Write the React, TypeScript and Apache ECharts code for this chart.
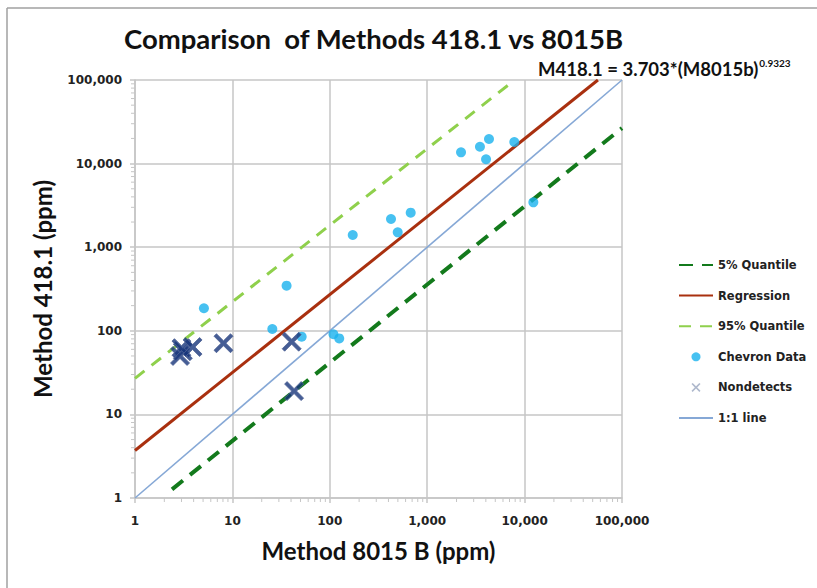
import React, { useEffect, useRef } from "react";
import * as echarts from "echarts";

// ---- Data ----
const axisTickValues = [1, 10, 100, 1000, 10000, 100000];
const minorMultipliers = [2, 3, 4, 5, 6, 7, 8, 9];

const chevronX = [2225, 3480, 4310, 4020, 7840, 12300, 172, 425, 677, 498, 5.1, 36, 25.7, 51.4, 109, 125];
const chevronY = [13650, 15900, 19700, 11260, 18130, 3440, 1400, 2175, 2590, 1507, 186, 347, 105, 85, 91, 81];

const nondetectX = [2.9, 3.1, 3.0, 3.9, 8.1, 40.6, 43];
const nondetectY = [50, 57, 62, 64, 71, 74, 19];

const q05X = [2.4, 100000];
const q05Y = [1.27, 26600];

const regX = [1, 56600];
const regY = [3.703, 100000];

const q95X = [1, 7900];
const q95Y = [27, 100000];

const oneX = [1, 100000];
const oneY = [1, 100000];

const zip = (xs: number[], ys: number[]) => xs.map((x, i) => [x, ys[i]]);

const X_ICON =
  "path://M0,1.3 L1.3,0 L5,3.7 L8.7,0 L10,1.3 L6.3,5 L10,8.7 L8.7,10 L5,6.3 L1.3,10 L0,8.7 L3.7,5 Z";

export default function App() {
  const ref = useRef<HTMLDivElement>(null);

  useEffect(() => {
    if (!ref.current) return;
    const chart = echarts.init(ref.current, undefined, { renderer: "svg" });

    const minorData: number[][] = [];
    for (let d = 0; d < axisTickValues.length - 1; d++) {
      for (const m of minorMultipliers) {
        const v = m * axisTickValues[d];
        minorData.push([v, 1, 0]);
        minorData.push([1, v, 1]);
      }
    }

    const fmt = (v: number) => Math.round(v).toLocaleString("en-US");
    const gridColor = "#c6c6c6";
    const hideSym = { opacity: 0 };

    chart.setOption({
      animation: false,
      backgroundColor: "#ffffff",
      title: {
        text: "Comparison  of Methods 418.1 vs 8015B",
        left: 119,
        top: 19,
        textStyle: {
          fontFamily: "Lato",
          fontWeight: "bold",
          fontSize: 27.5,
          color: "#111111",
        },
      },
      grid: { left: 135, right: 195, top: 80, bottom: 90, containLabel: false },
      xAxis: {
        type: "log",
        logBase: 10,
        min: 1,
        max: 100000,
        name: "Method 8015 B (ppm)",
        nameLocation: "middle",
        nameGap: 40,
        nameTextStyle: { fontFamily: "Lato", fontWeight: "bold", fontSize: 24, color: "#111" },
        axisLine: { show: true, lineStyle: { color: gridColor, width: 1.5 } },
        axisTick: { show: true, length: 5, lineStyle: { color: gridColor, width: 1.5 } },
        splitLine: { show: true, lineStyle: { color: gridColor, width: 1.5 } },
        axisLabel: {
          formatter: fmt,
          margin: 17,
          fontFamily: "DejaVu Sans",
          fontWeight: "bold",
          fontSize: 12,
          color: "#222",
        },
      },
      yAxis: {
        type: "log",
        logBase: 10,
        min: 1,
        max: 100000,
        name: "Method 418.1 (ppm)",
        nameLocation: "middle",
        nameGap: 81,
        nameTextStyle: { fontFamily: "Lato", fontWeight: "bold", fontSize: 24, color: "#111" },
        axisLine: { show: true, lineStyle: { color: gridColor, width: 1.5 } },
        axisTick: { show: true, length: 5, lineStyle: { color: gridColor, width: 1.5 } },
        splitLine: { show: true, lineStyle: { color: gridColor, width: 1.5 } },
        axisLabel: {
          formatter: fmt,
          margin: 13,
          fontFamily: "DejaVu Sans",
          fontWeight: "bold",
          fontSize: 12,
          color: "#222",
        },
      },
      legend: {
        orient: "vertical",
        left: 673,
        top: 254,
        itemWidth: 34,
        itemHeight: 9,
        itemGap: 18.6,
        textStyle: { fontFamily: "DejaVu Sans", fontWeight: "bold", fontSize: 11.5, color: "#222" },
        data: [
          { name: "5% Quantile", itemStyle: hideSym },
          { name: "Regression", itemStyle: hideSym },
          { name: "95% Quantile", itemStyle: hideSym },
          { name: "Chevron Data" },
          { name: "Nondetects", icon: X_ICON, itemStyle: { color: "#9aa6bf", borderWidth: 0 } },
          { name: "1:1 line", itemStyle: hideSym },
        ],
      },
      graphic: [
        {
          type: "line",
          shape: { x1: 7, y1: 8, x2: 7, y2: 588 },
          style: { stroke: "#a0a0a0", lineWidth: 1.5 },
          silent: true,
        },
        {
          type: "line",
          shape: { x1: 7, y1: 8, x2: 817, y2: 8 },
          style: { stroke: "#a0a0a0", lineWidth: 1.5 },
          silent: true,
        },
        {
          type: "text",
          left: 538,
          top: 58,
          style: {
            text: "{a|M418.1 = 3.703*(M8015b)}{s|0.9323}",
            rich: {
              a: { fontFamily: "Lato", fontWeight: "bold", fontSize: 18.5, fill: "#111", lineHeight: 22 },
              s: { fontFamily: "Lato", fontWeight: "bold", fontSize: 10, fill: "#111", verticalAlign: "top", lineHeight: 12, padding: [0, 0, 0, 1] },
            },
          },
          z: 100,
        },
      ],
      series: [
        {
          name: "minor",
          type: "custom",
          silent: true,
          clip: false,
          encode: { x: 0, y: 1 },
          data: minorData,
          renderItem: (params: any, api: any) => {
            const kind = api.value(2);
            const p = api.coord([api.value(0), api.value(1)]);
            if (kind === 0) {
              return {
                type: "line",
                shape: { x1: p[0], y1: p[1], x2: p[0], y2: p[1] + 4 },
                style: { stroke: "#c6c6c6", lineWidth: 1 },
              };
            }
            return {
              type: "line",
              shape: { x1: p[0] - 4, y1: p[1], x2: p[0], y2: p[1] },
              style: { stroke: "#c6c6c6", lineWidth: 1 },
            };
          },
          z: 1,
        },
        {
          name: "1:1 line",
          type: "line",
          data: zip(oneX, oneY),
          symbol: "none",
          lineStyle: { color: "#86a8d6", width: 1.6 },
          itemStyle: { color: "#86a8d6" },
          z: 2,
        },
        {
          name: "5% Quantile",
          type: "line",
          data: zip(q05X, q05Y),
          symbol: "none",
          lineStyle: { color: "#137a1c", width: 4, type: [14, 9] },
          itemStyle: { color: "#137a1c" },
          z: 3,
        },
        {
          name: "95% Quantile",
          type: "line",
          data: zip(q95X, q95Y),
          symbol: "none",
          lineStyle: { color: "#8fd04c", width: 3, type: [12, 9] },
          itemStyle: { color: "#8fd04c" },
          z: 3,
        },
        {
          name: "Regression",
          type: "line",
          data: zip(regX, regY),
          symbol: "none",
          lineStyle: { color: "#a9300f", width: 3 },
          itemStyle: { color: "#a9300f" },
          z: 4,
        },
        {
          name: "Chevron Data",
          type: "scatter",
          data: zip(chevronX, chevronY),
          symbol: "circle",
          symbolSize: 10,
          itemStyle: { color: "#19b2ee" },
          z: 5,
        },
        {
          name: "Nondetects",
          type: "scatter",
          data: zip(nondetectX, nondetectY),
          symbol: X_ICON,
          symbolSize: 19,
          itemStyle: { color: "#17357a", borderColor: "#4d6195", borderWidth: 1 },
          z: 6,
        },
      ],
    });

    return () => chart.dispose();
  }, []);

  return (
    <div
      ref={ref}
      style={{ position: "fixed", left: 0, top: 0, width: 817, height: 588, background: "#fff" }}
    />
  );
}
